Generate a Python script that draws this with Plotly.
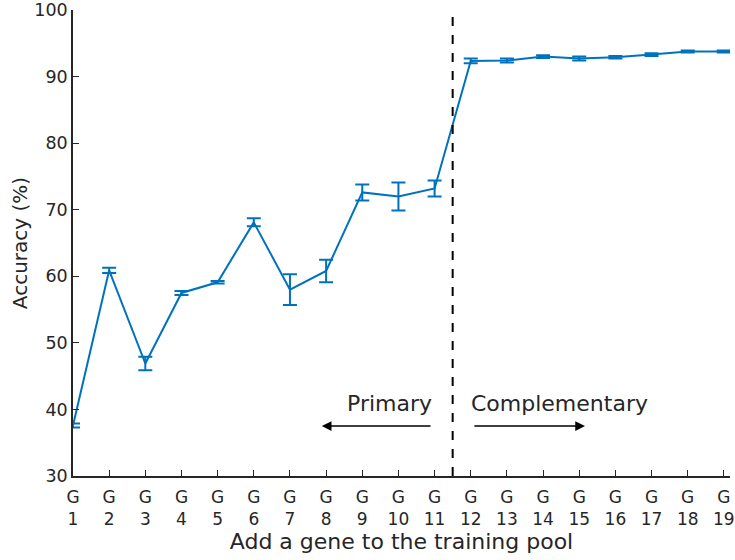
import plotly.graph_objects as go

genes = list(range(1, 20))
tick_labels = [f"G<br>{i}" for i in genes]
accuracy = [37.6, 60.9, 46.9, 57.5, 59.1, 68.1, 58.0, 60.8, 72.6, 72.0, 73.2,
            92.35, 92.4, 93.0, 92.7, 92.9, 93.3, 93.75, 93.75]
err = [0.3, 0.4, 1.0, 0.3, 0.2, 0.6, 2.3, 1.7, 1.2, 2.1, 1.2,
       0.35, 0.3, 0.2, 0.3, 0.2, 0.2, 0.15, 0.15]

split_x = 11.5
arrow_y = 37.5
label_y = 40.9

BLUE = "#0072BD"
TXT = "#262626"
FONT = "DejaVu Sans"

fig = go.Figure()
fig.add_trace(go.Scatter(
    x=genes, y=accuracy, mode="lines",
    line=dict(color=BLUE, width=2),
    error_y=dict(type="data", array=err, visible=True, color=BLUE, thickness=2, width=7),
    showlegend=False,
))

fig.add_shape(type="line", xref="x", yref="paper", x0=split_x, x1=split_x, y0=0, y1=1,
              line=dict(color="black", width=2, dash="dash"))

fig.add_annotation(x=7.88, y=arrow_y, ax=10.93, ay=arrow_y, xref="x", yref="y",
                   axref="x", ayref="y", text="", showarrow=True,
                   arrowhead=2, arrowsize=1.3, arrowwidth=1.5, arrowcolor="black")
fig.add_annotation(x=15.16, y=arrow_y, ax=12.06, ay=arrow_y, xref="x", yref="y",
                   axref="x", ayref="y", text="", showarrow=True,
                   arrowhead=2, arrowsize=1.3, arrowwidth=1.5, arrowcolor="black")
fig.add_annotation(x=9.74, y=label_y, xref="x", yref="y", text="Primary", showarrow=False,
                   font=dict(family=FONT, size=22, color=TXT))
fig.add_annotation(x=14.46, y=label_y, xref="x", yref="y", text="Complementary", showarrow=False,
                   font=dict(family=FONT, size=22, color=TXT))

fig.update_layout(
    width=735, height=560,
    margin=dict(l=73, r=5, t=10, b=84),
    plot_bgcolor="white", paper_bgcolor="white",
    font=dict(family=FONT, size=17, color=TXT),
)
fig.update_xaxes(
    range=[1, 19.17], tickmode="array", tickvals=genes, ticktext=tick_labels,
    automargin=False, ticklabeloverflow="allow", ticklabelstandoff=5,
    showgrid=False, zeroline=False, showline=True, linecolor=TXT, linewidth=1.5,
    ticks="inside", ticklen=6, tickcolor=TXT, tickfont=dict(size=17, color=TXT),
    title=dict(text="Add a gene to the training pool", font=dict(size=22, color=TXT), standoff=4),
)
fig.update_yaxes(
    range=[30, 100], tickvals=[30, 40, 50, 60, 70, 80, 90, 100],
    automargin=False, ticklabeloverflow="allow",
    showgrid=False, zeroline=False, showline=True, linecolor=TXT, linewidth=1.5,
    ticks="inside", ticklen=6, tickcolor=TXT, tickfont=dict(size=17.5, color=TXT),
    title=dict(text="Accuracy (%)", font=dict(size=20, color=TXT), standoff=1),
)

# remove the browser's default 8px page margin so the figure sits at the window's corner
fig.write_html("out.html", config={"displayModeBar": False},
               post_script="document.body.style.margin='0';")
